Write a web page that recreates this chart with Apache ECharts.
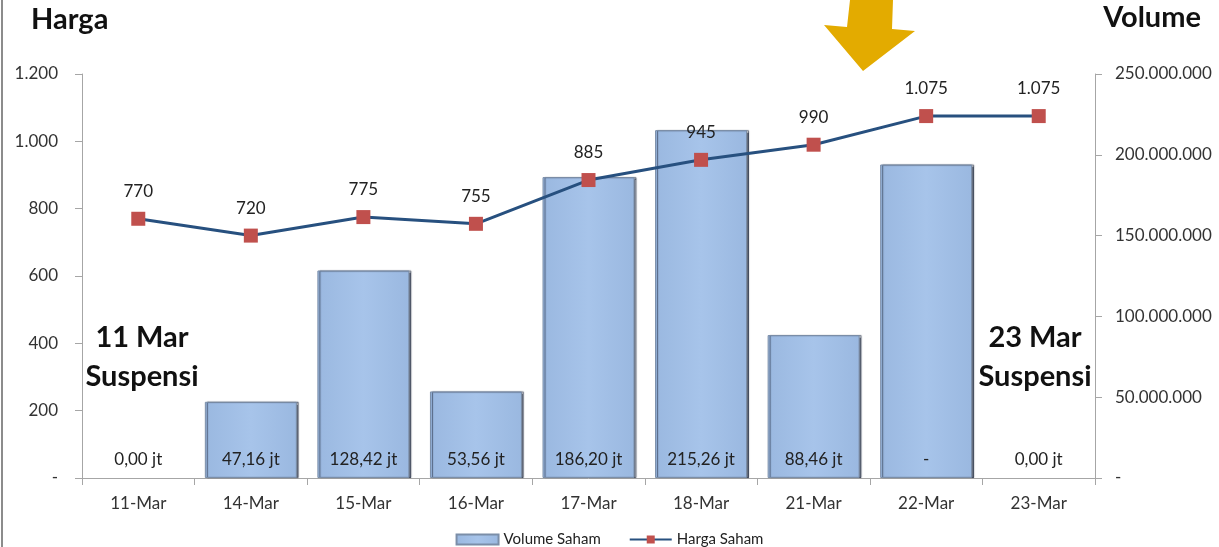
<!DOCTYPE html>
<html>
<head>
<meta charset="utf-8">
<script src="https://cdn.jsdelivr.net/npm/echarts@6/dist/echarts.min.js"></script>
<style>
  html, body { margin: 0; padding: 0; background: #fff; }
  #main { width: 1219px; height: 547px; }
</style>
</head>
<body>
<div id="main"></div>
<script>
const dates = ["11-Mar", "14-Mar", "15-Mar", "16-Mar", "17-Mar", "18-Mar", "21-Mar", "22-Mar", "23-Mar"];
const volume = [0, 47160000, 128420000, 53560000, 186200000, 215260000, 88460000, 194000000, 0];
const volumeText = ["0,00 jt", "47,16 jt", "128,42 jt", "53,56 jt", "186,20 jt", "215,26 jt", "88,46 jt", "-", "0,00 jt"];
const price = [770, 720, 775, 755, 885, 945, 990, 1075, 1075];

const font = "Lato, 'Open Sans', sans-serif";

function dots(v) {
  if (v === 0) return "-";
  return String(v).replace(/\B(?=(\d{3})+(?!\d))/g, ".");
}

// zero bars (suspended days) get no outline
const volumeData = volume.map(v => v === 0
  ? { value: v, itemStyle: { borderWidth: 0, shadowColor: "transparent", color: "transparent" } }
  : v);

const chart = echarts.init(document.getElementById("main"));
chart.setOption({
  animation: false,
  textStyle: { fontFamily: font },
  grid: { left: 82, right: 124, top: 74, bottom: 69 },
  legend: {
    bottom: -5,
    left: "center",
    itemGap: 28,
    itemWidth: 42,
    itemHeight: 10,
    textStyle: { fontSize: 15, color: "#222", fontFamily: font },
    data: [
      { name: "Volume Saham", icon: "rect" },
      { name: "Harga Saham" }
    ]
  },
  xAxis: {
    type: "category",
    data: dates,
    axisLine: { lineStyle: { color: "#a6a6a6" } },
    axisTick: { show: true, length: 7, lineStyle: { color: "#a6a6a6" } },
    axisLabel: { fontSize: 17, color: "#333", margin: 17, fontFamily: font }
  },
  yAxis: [
    {
      type: "value",
      min: 0, max: 1200, interval: 200,
      splitLine: { show: false },
      axisLine: { show: true, lineStyle: { color: "#a6a6a6" } },
      axisTick: { show: true, length: 7, lineStyle: { color: "#a6a6a6" } },
      axisLabel: { fontSize: 17, color: "#333", margin: 24, formatter: dots, fontFamily: font }
    },
    {
      type: "value",
      min: 0, max: 250000000, interval: 50000000,
      splitLine: { show: false },
      axisLine: { show: true, lineStyle: { color: "#a6a6a6" } },
      axisTick: { show: true, length: 7, lineStyle: { color: "#a6a6a6" } },
      axisLabel: { fontSize: 17, color: "#333", margin: 20, formatter: dots, fontFamily: font }
    }
  ],
  series: [
    {
      name: "Volume Saham",
      type: "bar",
      yAxisIndex: 1,
      data: volumeData,
      barWidth: 92,
      itemStyle: {
        color: new echarts.graphic.LinearGradient(0, 0, 1, 0, [
          { offset: 0, color: "#9ab8e0" },
          { offset: 0.5, color: "#a7c4ea" },
          { offset: 1, color: "#9ab8e0" }
        ]),
        borderColor: "#7b8ea8",
        borderWidth: 1,
        shadowColor: "rgba(40,50,70,0.7)",
        shadowOffsetX: 2,
        shadowBlur: 1
      },
      label: {
        show: true,
        position: "insideBottom",
        distance: 10,
        fontSize: 17,
        color: "#222",
        fontFamily: font,
        formatter: p => volumeText[p.dataIndex]
      }
    },
    {
      name: "Harga Saham",
      type: "line",
      data: price,
      color: "#c0504d",
      symbol: "rect",
      symbolSize: 14,
      lineStyle: { color: "#27507f", width: 3 },
      itemStyle: { color: "#c0504d" },
      label: {
        show: true,
        position: "top",
        distance: 12,
        fontSize: 17,
        color: "#222",
        fontFamily: font,
        formatter: p => dots(p.value)
      },
      z: 5
    }
  ],
  graphic: [
    { type: "line", shape: { x1: 2, y1: 0, x2: 2, y2: 547 }, style: { stroke: "#8c8c8c", lineWidth: 2 } },
    { type: "text", left: 31, top: 5, style: { text: "Harga", font: "bold 29px " + font, fill: "#111" } },
    { type: "text", right: 18, top: 3, style: { text: "Volume", font: "bold 29px " + font, fill: "#111" } },
    { type: "text", x: 142, y: 338, style: { text: "11 Mar", font: "bold 29px " + font, fill: "#111", align: "center", verticalAlign: "middle" } },
    { type: "text", x: 142, y: 377, style: { text: "Suspensi", font: "bold 29px " + font, fill: "#111", align: "center", verticalAlign: "middle" } },
    { type: "text", x: 1035, y: 338, style: { text: "23 Mar", font: "bold 29px " + font, fill: "#111", align: "center", verticalAlign: "middle" } },
    { type: "text", x: 1035, y: 377, style: { text: "Suspensi", font: "bold 29px " + font, fill: "#111", align: "center", verticalAlign: "middle" } },
    {
      type: "polygon",
      shape: { points: [[850, 0], [893, 0], [892, 29], [915, 31], [863, 71], [824, 25], [847, 27]] },
      style: { fill: "#e3ab00" }
    }
  ]
});
</script>
</body>
</html>
